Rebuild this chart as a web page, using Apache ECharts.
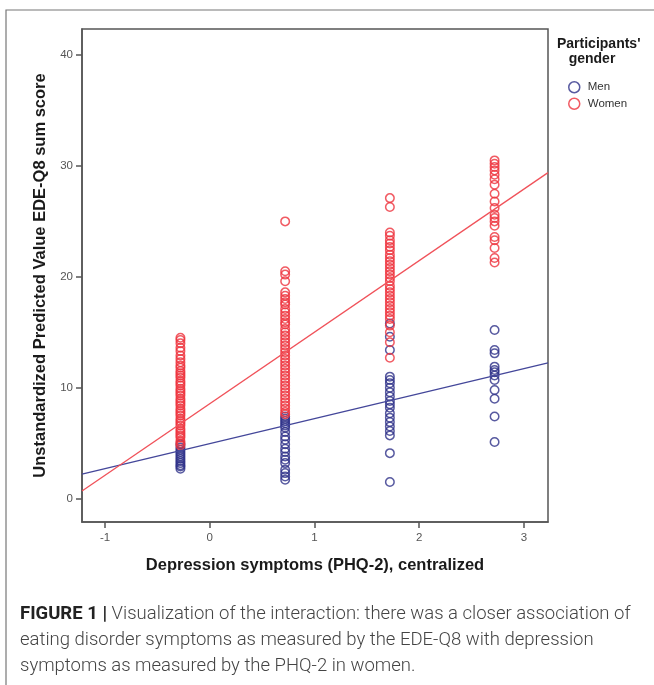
<!DOCTYPE html>
<html>
<head>
<meta charset="utf-8">
<script src="https://cdn.jsdelivr.net/npm/echarts@6/dist/echarts.min.js"></script>
<style>
  html, body { margin: 0; padding: 0; background: #fff; }
  #chart { width: 654px; height: 685px; }
</style>
</head>
<body>
<div id="chart"></div>
<script>
// x position of each PHQ-2 column (centralized)
var xCols = [-0.28, 0.72, 1.72, 2.72];
var xTicks = [-1, 0, 1, 2, 3];
var yTicks = [0, 10, 20, 30, 40];

// predicted EDE-Q8 values, read per column
var womenCol1 = [14.5, 14.3, 14.0, 13.6, 13.3, 12.9, 12.6, 12.3, 12.0, 11.8, 11.5, 11.3, 11.1, 10.9, 10.6, 10.4, 10.2, 9.9, 9.7, 9.5, 9.3, 9.0, 8.8, 8.6, 8.4, 8.1, 7.9, 7.7, 7.5, 7.2, 7.0, 6.8, 6.6, 6.3, 6.1, 5.9, 5.7, 5.5, 5.2, 5.0, 4.8];
var menCol1 = [4.9, 4.6, 4.4, 4.2, 4.0, 3.8, 3.6, 3.4, 3.2, 3.0, 2.9, 2.7];
var womenCol2 = [25.0, 20.5, 20.2, 19.6, 18.6, 18.3, 18.0, 17.7, 17.5, 17.1, 16.8, 16.5, 16.2, 15.9, 15.7, 15.3, 15.0, 14.7, 14.4, 14.1, 13.8, 13.5, 13.2, 12.9, 12.6, 12.3, 12.0, 11.7, 11.4, 11.1, 10.8, 10.5, 10.2, 9.9, 9.6, 9.3, 9.0, 8.7, 8.4, 8.1, 7.8, 7.6];
var menCol2 = [7.4, 7.2, 7.0, 6.8, 6.6, 6.4, 6.0, 5.6, 5.3, 4.9, 4.5, 4.2, 3.8, 3.5, 3.2, 2.6, 2.3, 2.0, 1.7];
var womenCol3 = [27.1, 26.3, 24.0, 23.7, 23.3, 23.0, 22.7, 22.4, 22.0, 21.7, 21.4, 21.1, 20.8, 20.5, 20.2, 19.9, 19.6, 19.2, 18.9, 18.6, 18.3, 18.0, 17.7, 17.4, 17.1, 16.8, 16.5, 16.2, 15.6, 15.0, 14.1, 12.7];
var menCol3 = [15.8, 14.6, 13.4, 11.0, 10.7, 10.4, 10.0, 9.6, 9.2, 8.8, 8.5, 8.2, 7.7, 7.3, 6.9, 6.5, 6.1, 5.7, 4.1, 1.5];
var womenCol4 = [30.5, 30.2, 29.9, 29.6, 29.2, 28.8, 28.3, 27.5, 26.8, 26.2, 25.6, 25.3, 25.0, 24.6, 23.6, 23.3, 22.6, 21.7, 21.3];
var menCol4 = [15.2, 13.4, 13.1, 11.9, 11.6, 11.4, 11.1, 10.7, 9.8, 9.0, 7.4, 5.1];

// regression lines, ends at the plot edges
var fitX = [-1.22, 3.23];
var menFitY = [2.2, 12.24];
var womenFitY = [0.69, 29.4];

var menColor = '#2e3188';
var womenColor = '#ee323c';

function toPoints(cols) {
	var pts = [];
	for (var c = 0; c < cols.length; c++) {
		for (var i = 0; i < cols[c].length; i++) {
			pts.push([xCols[c], cols[c][i]]);
		}
	}
	return pts;
}
function toLine(ys) {
	return [[fitX[0], ys[0]], [fitX[1], ys[1]]];
}

var chart = echarts.init(document.getElementById('chart'), null, { renderer: 'canvas' });

var option = {
	animation: false,
	textStyle: { fontFamily: 'Liberation Sans, Arial, sans-serif' },
	grid: {
		left: 82, top: 29, width: 466, height: 493,
		show: true, borderColor: '#555', borderWidth: 1.5, backgroundColor: '#fff'
	},
	legend: {
		orient: 'vertical',
		left: 563, top: 76,
		itemWidth: 11, itemHeight: 11, itemGap: 4,
		textStyle: { fontSize: 11.5, color: '#333', padding: [0, 0, 0, 3] },
		data: [
			{ name: 'Men', icon: 'circle', itemStyle: { color: 'rgba(0,0,0,0)', borderColor: menColor, borderWidth: 1.5 } },
			{ name: 'Women', icon: 'circle', itemStyle: { color: 'rgba(0,0,0,0)', borderColor: womenColor, borderWidth: 1.5 } }
		]
	},
	xAxis: {
		type: 'value',
		min: fitX[0], max: fitX[1],
		name: 'Depression symptoms (PHQ-2), centralized',
		nameLocation: 'middle', nameGap: 35,
		nameTextStyle: { fontSize: 16.5, fontWeight: 'bold', color: '#1a1a1a' },
		axisLine: { show: true, onZero: false, lineStyle: { color: '#555', width: 1.5 } },
		axisTick: { show: true, length: 6, customValues: xTicks, lineStyle: { color: '#555', width: 1.5 } },
		axisLabel: { customValues: xTicks, fontSize: 11.5, color: '#555', margin: 10 },
		splitLine: { show: false }
	},
	yAxis: {
		type: 'value',
		min: -2.11, max: 42.35,
		name: 'Unstandardized Predicted Value EDE-Q8 sum score',
		nameLocation: 'middle', nameGap: 31,
		nameTextStyle: { fontSize: 16.5, fontWeight: 'bold', color: '#1a1a1a' },
		axisLine: { show: true, onZero: false, lineStyle: { color: '#555', width: 1.5 } },
		axisTick: { show: true, length: 6, customValues: yTicks, lineStyle: { color: '#555', width: 1.5 } },
		axisLabel: { customValues: yTicks, fontSize: 11.5, color: '#555', margin: 9 },
		splitLine: { show: false }
	},
	graphic: [
		{
			type: 'rect', silent: true, z: -10,
			shape: { x: 6, y: 10, width: 700, height: 700 },
			style: { fill: 'none', stroke: '#777', lineWidth: 1.2 }
		},
		{
			type: 'text', left: 557, top: 37,
			style: {
				text: "Participants'\n   gender",
				font: 'bold 14px "Liberation Sans", Arial, sans-serif',
				fill: '#1a1a1a', lineHeight: 15
			}
		},
		{
			type: 'text', left: 20, top: 601,
			style: {
				text: '{b|FIGURE 1 |} Visualization of the interaction: there was a closer association of\neating disorder symptoms as measured by the EDE-Q8 with depression\nsymptoms as measured by the PHQ-2 in women.',
				font: '300 18.5px Roboto, sans-serif',
				fill: '#444', lineHeight: 26,
				rich: {
					b: { font: 'bold 18.5px Roboto, sans-serif', fill: '#222', lineHeight: 26 }
				}
			}
		}
	],
	series: [
		{
			name: 'Men', type: 'scatter', symbol: 'circle', symbolSize: 8.5, z: 2,
			itemStyle: { color: 'rgba(0,0,0,0)', borderColor: menColor, borderWidth: 1.5 },
			data: toPoints([menCol1, menCol2, menCol3, menCol4])
		},
		{
			name: 'Women', type: 'scatter', symbol: 'circle', symbolSize: 8.5, z: 2,
			itemStyle: { color: 'rgba(0,0,0,0)', borderColor: womenColor, borderWidth: 1.5 },
			data: toPoints([womenCol1, womenCol2, womenCol3, womenCol4])
		},
		{
			name: 'Men fit', type: 'line', symbol: 'none', z: 3,
			lineStyle: { color: '#44479a', width: 1.3 },
			data: toLine(menFitY)
		},
		{
			name: 'Women fit', type: 'line', symbol: 'none', z: 3,
			lineStyle: { color: '#f0525a', width: 1.3 },
			data: toLine(womenFitY)
		}
	]
};
chart.setOption(option);
</script>
</body>
</html>
